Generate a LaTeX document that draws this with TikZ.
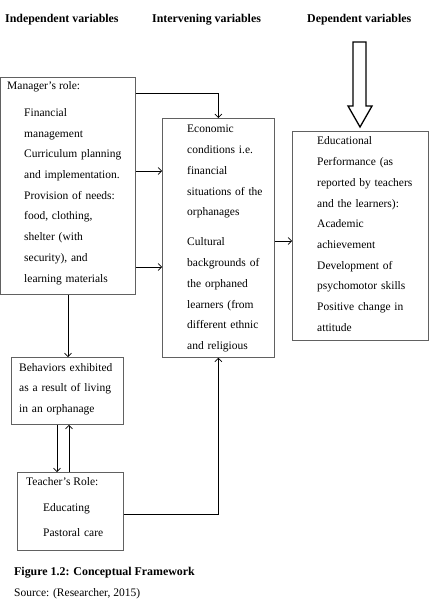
\documentclass[tikz,border=0pt]{standalone}
\usepackage{fontspec}
\setmainfont{Liberation Serif}
\usetikzlibrary{arrows.meta,calc,positioning}
\definecolor{boxgray}{rgb}{0.38,0.38,0.38}
\begin{document}
\begin{tikzpicture}[x=1pt,y=-1pt,
    box/.style={draw=boxgray, line width=0.8pt, anchor=north west, inner sep=0pt},
    txt/.style={anchor=base west, inner sep=0pt, text width=125pt, align=left,
                font=\fontsize{11.5}{20.7}\selectfont},
    line/.style={anchor=base west, inner sep=0pt, font=\fontsize{11.5}{14}\selectfont},
    head/.style={anchor=base west, inner sep=0pt, font=\fontsize{11.9}{14}\selectfont\bfseries},
    conn/.style={line width=0.7pt, -{Straight Barb[length=3.5pt,width=7pt]}}]
        \useasboundingbox (0,0) rectangle (430,609);
        %Headings
        \node[head] (hind) at (5,23) {Independent variables};
        \node[head] (hint) at (152,23) {Intervening variables};
        \node[head] (hdep) at (307,23) {Dependent variables};
        %Boxes
        \node[box, minimum width=135pt, minimum height=217pt] (mgr) at (0,77) {};
        \node[box, minimum width=112pt, minimum height=239pt] (mid) at (162,118) {};
        \node[box, minimum width=136pt, minimum height=209pt] (dep) at (292,131) {};
        \node[box, minimum width=112pt, minimum height=67pt] (beh) at (11,357) {};
        \node[box, minimum width=106pt, minimum height=78pt] (tea) at (17,472) {};
        %Texts
        \node[line] (mgrhead) at (7,89.5) {Manager’s role:};
        \node[txt] (mgrtxt) at (24,116.5) {Financial\\ management\\ Curriculum planning\\
            and implementation.\\ Provision of needs:\\ food, clothing,\\ shelter (with\\
            security), and\\ learning materials};
        \node[txt] (econ) at (187,133) {Economic\\ conditions i.e.\\ financial\\
            situations of the\\ orphanages};
        \node[txt] (cult) at (187,246) {Cultural\\ backgrounds of\\ the orphaned\\
            learners (from\\ different ethnic\\ and religious};
        \node[txt] (perf) at (317,145) {Educational\\ Performance (as\\ reported by teachers\\
            and the learners):\\ Academic\\ achievement\\ Development of\\
            psychomotor skills\\ Positive change in\\ attitude};
        \node[txt] (behtxt) at (19,371) {Behaviors exhibited\\ as a result of living\\
            in an orphanage};
        \node[line] (teahead) at (26,485) {Teacher’s Role:};
        \node[txt] (teatxt) at (43,511) {Educating\\[4.3pt] Pastoral care};
        %Caption
        \node[head] (fig) at (14,575) {Figure 1.2: Conceptual Framework};
        \node[line] (src) at (14,596) {Source: (Researcher, 2015)};
        %Big arrow
        \draw[line width=1.3pt, line join=miter] (353,42) -- (366,42) -- (366,106) -- (372,106)
            -- (360,127) -- (348,106) -- (353,106) -- cycle;
        %Arrows
        \draw[conn] ([yshift=-16pt]mgr.north east) -| (mid.north);
        \draw[conn] (mgr.east |- 0,171) -- (mid.west |- 0,171);
        \draw[conn] (mgr.east |- 0,267) -- (mid.west |- 0,267);
        \draw[conn] (mid.east |- 0,241) -- (dep.west |- 0,241);
        \draw[conn] (mgr.south -| 68,0) -- (beh.north -| 68,0);
        \draw[conn] (beh.south -| 57,0) -- (tea.north -| 57,0);
        \draw[conn] (tea.north -| 69,0) -- (beh.south -| 69,0);
        \draw[conn] (tea.east |- 0,514) -| (mid.south);
\end{tikzpicture}
\end{document}
